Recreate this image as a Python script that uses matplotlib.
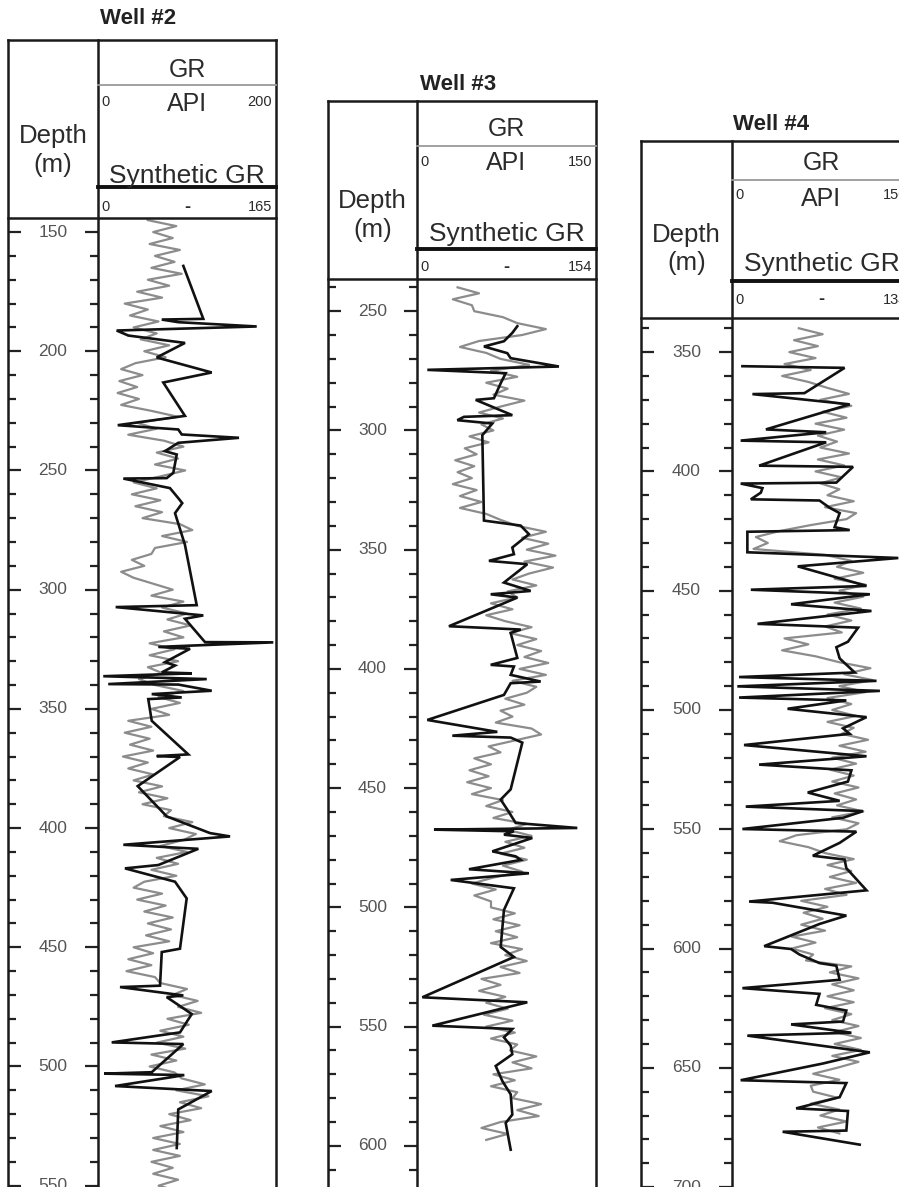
import numpy as np
import matplotlib.pyplot as plt
from matplotlib.ticker import MultipleLocator

plt.rcParams['font.family'] = ['Liberation Sans', 'DejaVu Sans']

W, H = 899, 1187

# ---------------- data ----------------
well_names = ["Well #2", "Well #3", "Well #4"]
gr_max = [200, 150, 150]
syn_max = [165, 154, 134]
gr_step = 2.5

# GR log, API, sampled every 2.5 m
gr2_top = 145.0
gr2 = [56, 88, 62, 84, 58, 92, 64, 86, 60, 94, 56, 80, 44, 72, 30, 56,
       36, 68, 40, 66, 48, 80, 52, 76, 42, 26, 50, 24, 44, 22, 46, 26,
       60, 90, 44, 66, 34, 74, 96, 66, 90, 64, 98, 70, 40, 66, 38, 70,
       42, 72, 50, 92, 106, 72, 100, 64, 60, 38, 52, 26, 40, 62, 84, 60,
       96, 72, 100, 78, 104, 74, 96, 58, 86, 58, 90, 56, 72, 46, 64, 96,
       68, 92, 60, 80, 34, 60, 30, 58, 36, 62, 28, 56, 34, 62, 40, 72,
       46, 78, 50, 82, 74, 106, 80, 110, 96, 70, 100, 66, 90, 60, 88, 52,
       40, 72, 44, 76, 52, 84, 56, 82, 54, 80, 40, 62, 34, 60, 32, 64,
       70, 100, 84, 112, 90, 116, 78, 102, 70, 96, 66, 98, 60, 88, 58, 86,
       94, 120, 88, 124, 92, 116, 80, 104, 70, 96, 62, 92, 62, 92, 60, 84,
       62, 90, 68, 92]

gr3_top = 240.0
gr3 = [34, 52, 30, 46, 48, 72, 84, 108, 88, 52, 36, 58, 70, 94, 62, 84,
       58, 76, 64, 90, 70, 52, 72, 54, 64, 44, 60, 40, 50, 32, 48, 34,
       46, 30, 50, 36, 54, 36, 58, 70, 84, 108, 88, 110, 92, 116, 90, 114,
       94, 80, 100, 76, 84, 62, 80, 58, 74, 96, 78, 100, 84, 104, 90, 110,
       86, 108, 80, 100, 92, 74, 90, 70, 80, 66, 96, 104, 82, 60, 70, 48,
       62, 44, 60, 42, 62, 46, 72, 58, 80, 64, 92, 76, 96, 74, 90, 70,
       92, 72, 88, 64, 46, 66, 48, 62, 62, 82, 64, 86, 66, 84, 62, 88,
       74, 92, 70, 86, 54, 70, 52, 74, 58, 76, 56, 80, 58, 82, 62, 84,
       78, 100, 80, 96, 64, 82, 62, 84, 80, 104, 84, 102, 70, 54, 76, 58]

gr4_top = 340.0
gr4 = [56, 76, 52, 72, 48, 70, 44, 66, 42, 64, 80, 98, 74, 100, 76, 96,
       70, 94, 72, 88, 74, 98, 72, 94, 70, 92, 74, 90, 80, 102, 78, 104,
       96, 66, 40, 20, 30, 18, 78, 100, 88, 110, 86, 112, 90, 110, 86, 108,
       80, 100, 78, 92, 44, 64, 42, 70, 90, 116, 94, 118, 90, 112, 80, 100,
       84, 104, 80, 102, 92, 114, 90, 112, 84, 104, 82, 102, 84, 106, 86, 104,
       88, 110, 84, 106, 96, 54, 40, 64, 78, 102, 80, 100, 82, 104, 78, 96,
       58, 80, 60, 76, 58, 78, 50, 70, 50, 68, 62, 100, 82, 106, 84, 102,
       80, 102, 78, 100, 84, 106, 86, 108, 86, 108, 84, 106, 88, 68, 90, 66,
       68, 88, 66, 90, 74, 96, 72, 90]

# synthetic GR (depth m, value)
syn2_depth = [164.2, 186.4, 186.7, 187.8, 189.6, 191.3, 193.4, 196.5, 202.6, 208.9,
              213.1, 227.1, 231.0, 232.8, 234.9, 236.3, 238.4, 241.9, 243.3, 251.0,
              253.2, 253.4, 257.4, 261.6, 263.7, 267.9, 281.2, 306.5, 307.3, 310.8,
              312.2, 322.0, 322.1, 324.0, 324.8, 330.4, 331.8, 334.7, 335.1, 336.3,
              337.5, 339.6, 339.8, 342.4, 343.8, 345.2, 345.9, 355.0, 369.1, 369.8,
              370.2, 382.4, 395.1, 402.1, 403.5, 407.0, 408.7, 415.5, 416.9, 422.5,
              429.5, 450.6, 452.0, 466.1, 466.7, 470.2, 470.9, 478.0, 485.7, 489.9,
              490.6, 502.4, 503.0, 503.6, 504.7, 508.2, 510.3, 518.0, 534.2]
syn2_val = [79.1, 97.6, 59.1, 74.4, 147.1, 17.3, 28.1, 80.6, 54.4, 105.4,
            60.5, 80.6, 18.3, 74.4, 77.6, 130.7, 74.4, 62.1, 73.0, 69.8,
            63.7, 23.5, 66.7, 74.4, 78.1, 71.4, 80.6, 91.5, 16.4, 97.6,
            80.6, 99.2, 162.5, 55.9, 85.3, 62.1, 71.4, 59.1, 86.9, 4.9,
            100.8, 9.5, 74.4, 105.4, 49.8, 77.6, 46.6, 49.8, 83.7, 54.4,
            76.0, 36.8, 63.7, 103.8, 122.4, 23.5, 93.0, 55.9, 25.0, 71.4,
            82.2, 76.0, 59.1, 57.5, 20.4, 79.1, 63.7, 86.9, 76.0, 12.7,
            79.1, 49.8, 5.8, 80.0, 65.2, 15.8, 105.4, 74.4, 73.0]

syn3_depth = [256.3, 259.1, 262.6, 264.8, 267.6, 269.7, 273.2, 274.6, 276.0, 280.2,
              286.5, 287.2, 293.6, 294.3, 295.7, 297.1, 302.0, 337.8, 339.9, 343.5,
              349.1, 351.9, 354.7, 356.1, 363.8, 367.3, 368.7, 370.1, 382.1, 383.5,
              384.9, 395.4, 398.3, 399.0, 402.5, 405.3, 406.0, 410.9, 421.4, 426.4,
              428.0, 428.8, 430.9, 450.5, 454.8, 459.0, 464.6, 466.7, 467.4, 468.1,
              469.5, 470.9, 476.5, 478.6, 480.1, 484.0, 485.7, 488.5, 492.0, 501.1,
              516.6, 520.8, 537.7, 539.8, 549.6, 551.0, 554.5, 558.0, 561.6, 566.5,
              572.8, 578.4, 586.9, 590.4, 601.6]
syn3_val = [86.3, 82.0, 74.8, 57.6, 77.7, 80.6, 122.1, 8.9, 76.3, 72.0,
            66.2, 50.5, 82.0, 40.4, 34.7, 64.8, 56.2, 57.6, 89.2, 96.3,
            82.0, 83.4, 61.9, 94.9, 74.8, 97.8, 63.4, 86.3, 27.5, 89.2,
            80.6, 86.3, 63.4, 83.4, 80.6, 106.4, 80.6, 74.8, 8.9, 69.1,
            30.4, 80.6, 90.6, 80.6, 72.0, 77.7, 84.9, 137.9, 14.6, 83.4,
            74.8, 99.2, 64.8, 84.9, 89.2, 44.7, 96.3, 29.0, 83.4, 74.8,
            72.0, 83.4, 4.6, 94.9, 13.2, 82.0, 74.8, 80.6, 82.0, 67.7,
            73.4, 80.6, 82.0, 76.3, 80.6]

syn4_depth = [355.9, 356.6, 367.2, 367.6, 371.9, 382.4, 383.6, 387.1, 387.8, 397.6,
              398.1, 404.7, 405.1, 407.0, 408.9, 411.7, 412.2, 415.2, 417.5, 423.4,
              424.6, 425.3, 433.9, 436.3, 439.8, 448.0, 449.6, 451.5, 455.7, 458.5,
              463.9, 465.5, 471.4, 473.7, 478.4, 484.3, 486.2, 487.8, 490.1, 492.0,
              494.8, 496.0, 499.5, 503.0, 507.7, 510.0, 514.7, 519.4, 522.9, 525.3,
              530.0, 534.6, 538.1, 540.5, 542.4, 545.2, 549.9, 551.0, 555.7, 561.1,
              562.7, 566.3, 575.6, 580.3, 580.8, 586.2, 589.7, 599.0, 600.2, 602.5,
              606.1, 607.2, 613.1, 616.6, 619.0, 623.6, 626.0, 630.6, 631.8, 635.3,
              636.5, 643.5, 648.2, 655.2, 656.4, 662.3, 667.0, 668.1, 676.3, 676.8,
              682.2]
syn4_val = [7.8, 84.3, 54.2, 15.3, 88.1, 25.4, 70.5, 6.5, 70.5, 20.3,
            90.6, 78.1, 6.5, 22.8, 21.6, 14.1, 65.5, 73.0, 80.6, 76.8,
            88.1, 11.5, 11.5, 124.5, 49.2, 100.7, 14.1, 103.2, 44.2, 104.4,
            19.1, 94.4, 86.8, 78.1, 80.6, 91.9, 5.3, 108.2, 4.0, 110.7,
            5.3, 85.6, 41.6, 100.7, 83.1, 88.1, 9.0, 100.7, 20.3, 89.4,
            86.8, 56.7, 80.6, 10.3, 98.1, 83.1, 7.8, 93.1, 80.6, 60.5,
            84.3, 85.6, 100.7, 12.8, 30.3, 85.6, 65.5, 24.1, 44.2, 50.5,
            65.5, 78.1, 80.6, 7.8, 65.5, 63.0, 85.6, 83.1, 44.2, 89.4,
            11.5, 103.2, 68.0, 6.5, 85.6, 80.6, 48.0, 86.8, 85.6, 37.9,
            95.6]

gr_logs = [(gr2_top, gr2), (gr3_top, gr3), (gr4_top, gr4)]
syn_logs = [(syn2_depth, syn2_val), (syn3_depth, syn3_val), (syn4_depth, syn4_val)]
depth_range = [(144.1, 558.1), (236.5, 624.8), (335.7, 707.5)]

# ---------------- layout (pixels) ----------------
layout = [
    dict(L=8, D=98, R=276, top=40, title=18, gr=70, gray=85, api=104, sc=102,
         syn=176, thick=187, num=207, hb=218, dep=136, m=165),
    dict(L=328, D=417, R=596, top=101, title=84, gr=129, gray=146, api=163, sc=162,
         syn=234, thick=249, num=267, hb=279, dep=201, m=230),
    dict(L=641, D=732, R=911, top=141, title=125, gr=163, gray=180, api=199, sc=195,
         syn=264, thick=281, num=300, hb=318, dep=235, m=263),
]
BOTTOM = 1205


def rect(l, t, r, b):
    return [l / W, 1 - b / H, (r - l) / W, (b - t) / H]


fig = plt.figure(figsize=(W / 100, H / 100), dpi=100)
fig.patch.set_facecolor('white')

frame = fig.add_axes([0, 0, 1, 1], zorder=5)
frame.set_xlim(0, W)
frame.set_ylim(H, 0)
frame.axis('off')

txt = '#2b2b2b'
for i, lay in enumerate(layout):
    L, D, R = lay['L'], lay['D'], lay['R']
    y0, y1 = depth_range[i]

    # depth column
    dax = fig.add_axes(rect(L, lay['hb'], D, BOTTOM))
    dax.set_xlim(0, 1)
    dax.set_ylim(y1, y0)
    for s in dax.spines.values():
        s.set_visible(False)
    dax.set_xticks([])
    dax.yaxis.set_major_locator(MultipleLocator(50))
    dax.yaxis.set_minor_locator(MultipleLocator(10))
    dax.tick_params(axis='y', which='both', direction='in', left=True, right=True,
                    labelleft=False, color='#222222', width=1.6)
    dax.tick_params(axis='y', which='major', length=9.5)
    dax.tick_params(axis='y', which='minor', length=6)
    for d in np.arange(np.ceil(y0 / 50) * 50, y1, 50):
        dax.text(0.5, d, f"{int(d)}", ha='center', va='center', fontsize=12.5,
                 color='#555555', transform=dax.get_yaxis_transform())

    # log track: GR (grey) and synthetic GR (black)
    tax = fig.add_axes(rect(D, lay['hb'], R, BOTTOM))
    tax.set_xlim(0, gr_max[i])
    tax.set_ylim(y1, y0)
    tax.axis('off')
    top, vals = gr_logs[i]
    dep = top + gr_step * np.arange(len(vals))
    tax.plot(vals, dep, color='#8c8c8c', lw=1.6)

    sax = fig.add_axes(rect(D, lay['hb'], R, BOTTOM), sharey=tax)
    sax.patch.set_visible(False)
    sax.set_xlim(0, syn_max[i])
    sax.axis('off')
    sd, sv = syn_logs[i]
    sax.plot(sv, sd, color='#111111', lw=1.9, solid_joinstyle='miter')

    # frame and header
    k = dict(color='#1a1a1a', lw=1.8, solid_capstyle='projecting')
    frame.plot([L, R], [lay['top'], lay['top']], **k)
    frame.plot([L, L], [lay['top'], BOTTOM], **k)
    frame.plot([D, D], [lay['top'], BOTTOM], **k)
    frame.plot([R, R], [lay['top'], BOTTOM], **k)
    frame.plot([L, R], [lay['hb'], lay['hb']], **k)
    frame.plot([D, R], [lay['gray'], lay['gray']], color='#9a9a9a', lw=1.3)
    frame.plot([D, R], [lay['thick'], lay['thick']], color='#111111', lw=2.8)

    cx = (D + R) / 2
    frame.text(L + 130, lay['title'], well_names[i], ha='center', va='center',
               fontsize=16, fontweight='bold', color='#222222')
    frame.text(cx, lay['gr'], "GR", ha='center', va='center', fontsize=18, color=txt)
    frame.text(cx, lay['api'], "API", ha='center', va='center', fontsize=18, color=txt)
    frame.text(cx, lay['syn'], "Synthetic GR", ha='center', va='center', fontsize=19,
               color=txt)
    frame.text(D + 3, lay['sc'], "0", ha='left', va='center', fontsize=10.5, color=txt)
    frame.text(R - 4, lay['sc'], str(gr_max[i]), ha='right', va='center', fontsize=10.5,
               color=txt)
    frame.text(D + 3, lay['num'], "0", ha='left', va='center', fontsize=10.5, color=txt)
    frame.text(cx, lay['num'], "-", ha='center', va='center', fontsize=13,
               fontweight='bold', color=txt)
    frame.text(R - 4, lay['num'], str(syn_max[i]), ha='right', va='center', fontsize=10.5,
               color=txt)
    frame.text((L + D) / 2, lay['dep'], "Depth", ha='center', va='center', fontsize=18.5,
               color=txt)
    frame.text((L + D) / 2, lay['m'], "(m)", ha='center', va='center', fontsize=18.5,
               color=txt)

fig.savefig("out.png", dpi=100, facecolor='white')
